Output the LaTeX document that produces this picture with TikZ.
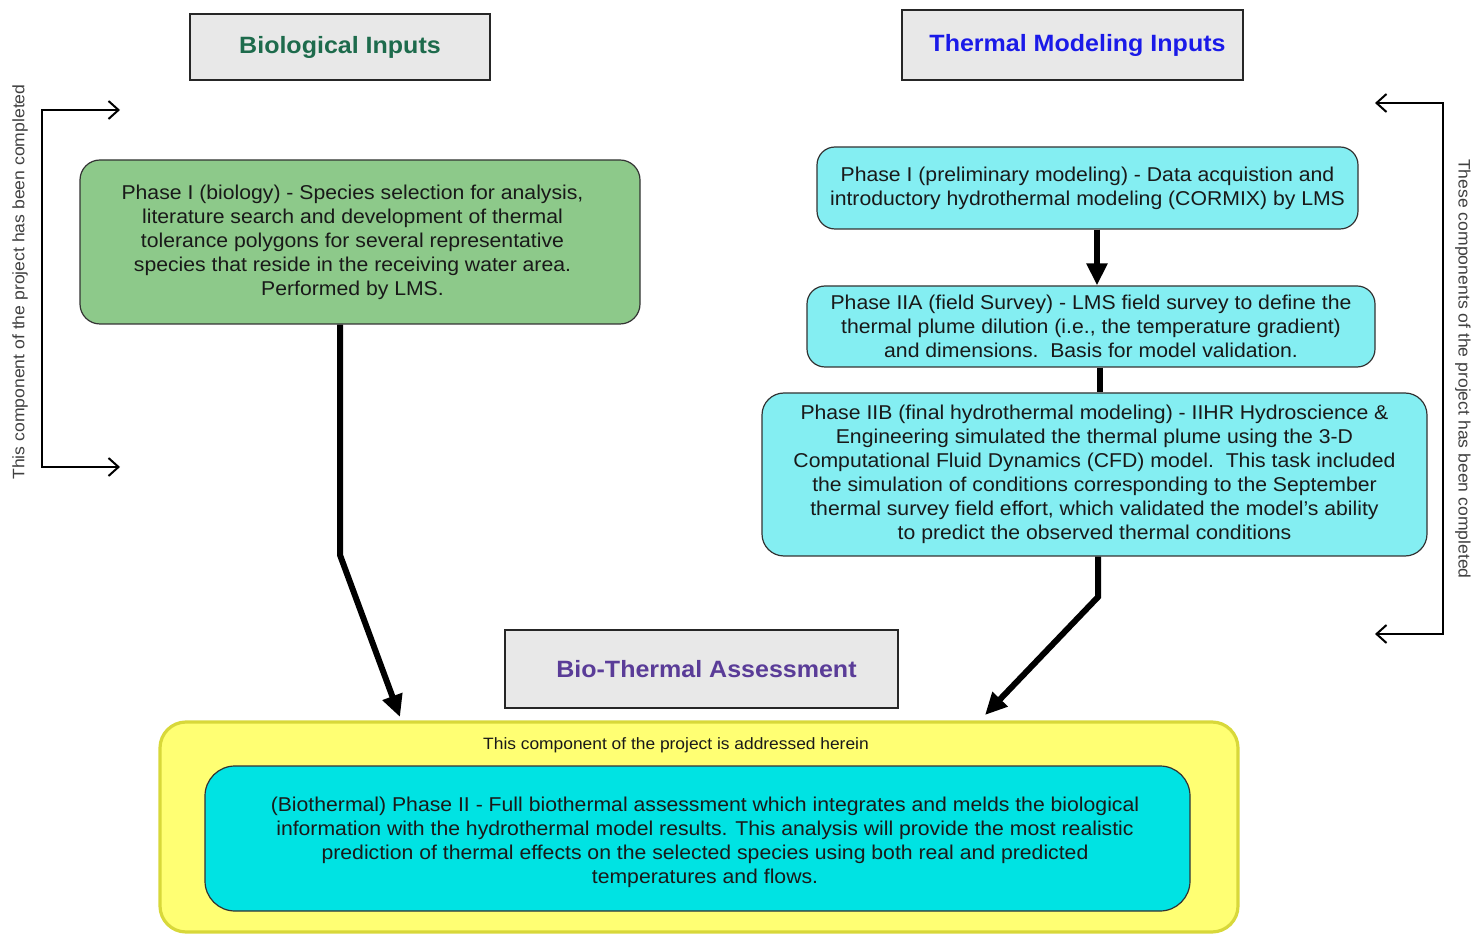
\documentclass[tikz,border=0pt]{standalone}
\usepackage{fontspec}
\setmainfont{Liberation Sans}[FakeStretch=1.06]
\usetikzlibrary{arrows.meta}
\definecolor{headgray}{HTML}{E8E8E8}
\definecolor{biogreen}{HTML}{8DC98A}
\definecolor{lightcyan}{HTML}{84EEF2}
\definecolor{deepcyan}{HTML}{00E3E3}
\definecolor{notefill}{HTML}{FFFF73}
\definecolor{noteline}{HTML}{D8D83A}
\definecolor{bioink}{HTML}{1D6B4C}
\definecolor{thermink}{HTML}{1A1AE8}
\definecolor{assessink}{HTML}{5A3C98}
\tikzset{
  headbox/.style={draw=black!85, line width=1pt, fill=headgray, inner sep=0pt,
    font=\fontsize{11.8}{14}\selectfont\bfseries},
  phasebox/.style={draw=black!80, line width=0.6pt, rounded corners=9pt, inner sep=0pt,
    align=center, text=black!90, font=\fontsize{10}{12}\selectfont},
  flow/.style={line width=3pt, -{Triangle[length=11pt,width=10pt]}},
  bracket/.style={line width=1pt, {Straight Barb[length=5pt,width=9pt]}-{Straight Barb[length=5pt,width=9pt]}},
  sidenote/.style={text=black!75, font=\fontsize{8.3}{10}\selectfont}
}
\begin{document}
\begin{tikzpicture}[x=0.5pt,y=-0.5pt]
  \useasboundingbox (0,0) rectangle (1479,935);
  % headings
  \node[headbox, minimum width=150pt, minimum height=33pt, text=bioink] (bio) at (340,47) {Biological Inputs};
  \node[headbox, minimum width=170.5pt, minimum height=35pt, text=thermink] (therm) at (1072.5,45) {\hspace{5pt}Thermal Modeling Inputs};
  \node[headbox, minimum width=196.5pt, minimum height=39pt, text=assessink] (assess) at (701.5,669) {\hspace{5pt}Bio-Thermal Assessment};
  % biology
  \node[phasebox, fill=biogreen, rounded corners=10pt, minimum width=280pt, minimum height=82pt] (phasebio) at (360,242)
    {\hspace{-7.5pt}Phase I (biology) - Species selection for analysis,\\
     \hspace{-7.5pt}literature search and development of thermal\\
     \hspace{-7.5pt}tolerance polygons for several representative\\
     \hspace{-7.5pt}species that reside in the receiving water area.\\
     \hspace{-7.5pt}Performed by LMS.};
  % thermal modeling
  \node[phasebox, fill=lightcyan, minimum width=270.5pt, minimum height=41pt] (phaseone) at (1087.5,188)
    {Phase I (preliminary modeling) - Data acquistion and\\
     introductory hydrothermal modeling (CORMIX) by LMS};
  \node[phasebox, fill=lightcyan, minimum width=284pt, minimum height=40.5pt] (phaseiia) at (1091,326.5)
    {Phase IIA (field Survey) - LMS field survey to define the\\
     thermal plume dilution (i.e., the temperature gradient)\\
     and dimensions.\ \ Basis for model validation.};
  \node[phasebox, fill=lightcyan, rounded corners=11pt, minimum width=332.5pt, minimum height=81.5pt] (phaseiib) at (1094.5,474.5)
    {Phase IIB (final hydrothermal modeling) - IIHR Hydroscience \&\\
     Engineering simulated the thermal plume using the 3-D\\
     Computational Fluid Dynamics (CFD) model.\ \ This task included\\
     the simulation of conditions corresponding to the September\\
     thermal survey field effort, which validated the model's ability\\
     to predict the observed thermal conditions};
  % assessment
  \node[draw=noteline, line width=1.6pt, fill=notefill, rounded corners=13pt, minimum width=539pt, minimum height=105pt] (herein) at (699,827) {};
  \node[font=\fontsize{8.2}{10}\selectfont, text=black!90] (hereinlabel) at (676,745) {This component of the project is addressed herein};
  \node[phasebox, fill=deepcyan, rounded corners=15pt, minimum width=492.5pt, minimum height=72.5pt] (biothermal) at (697.5,838.5) {};
  \node[phasebox, draw=none] (biothermaltext) at (705,842)
    {(Biothermal) Phase II - Full biothermal assessment which integrates and melds the biological\\
     information with the hydrothermal model results. This analysis will provide the most realistic\\
     prediction of thermal effects on the selected species using both real and predicted\\
     temperatures and flows.};
  % connectors
  \coordinate (bioturn) at (340,555);
  \coordinate (biohit) at (400,717);
  \draw[flow] (bioturn |- phasebio.south) -- (bioturn) -- (biohit);
  \coordinate (thermx) at (1097,0);
  \draw[flow] (thermx |- phaseone.south) -- (thermx |- phaseiia.north);
  \coordinate (linkx) at (1100,0);
  \draw[line width=2.6pt] (linkx |- phaseiia.south) -- (linkx |- phaseiib.north);
  \coordinate (thermturn) at (1098,597);
  \coordinate (thermhit) at (985,715);
  \draw[flow] (thermturn |- phaseiib.south) -- (thermturn) -- (thermhit);
  % side brackets
  \draw[bracket] (120,110) -- (42,110) -- (42,467) -- (120,467);
  \draw[bracket] (1375,103) -- (1443,103) -- (1443,634) -- (1375,634);
  \node[sidenote, rotate=90] (leftnote) at (20,282) {This component of the project has been completed};
  \node[sidenote, rotate=-90] (rightnote) at (1463,369) {These components of the project has been completed};
\end{tikzpicture}
\end{document}
